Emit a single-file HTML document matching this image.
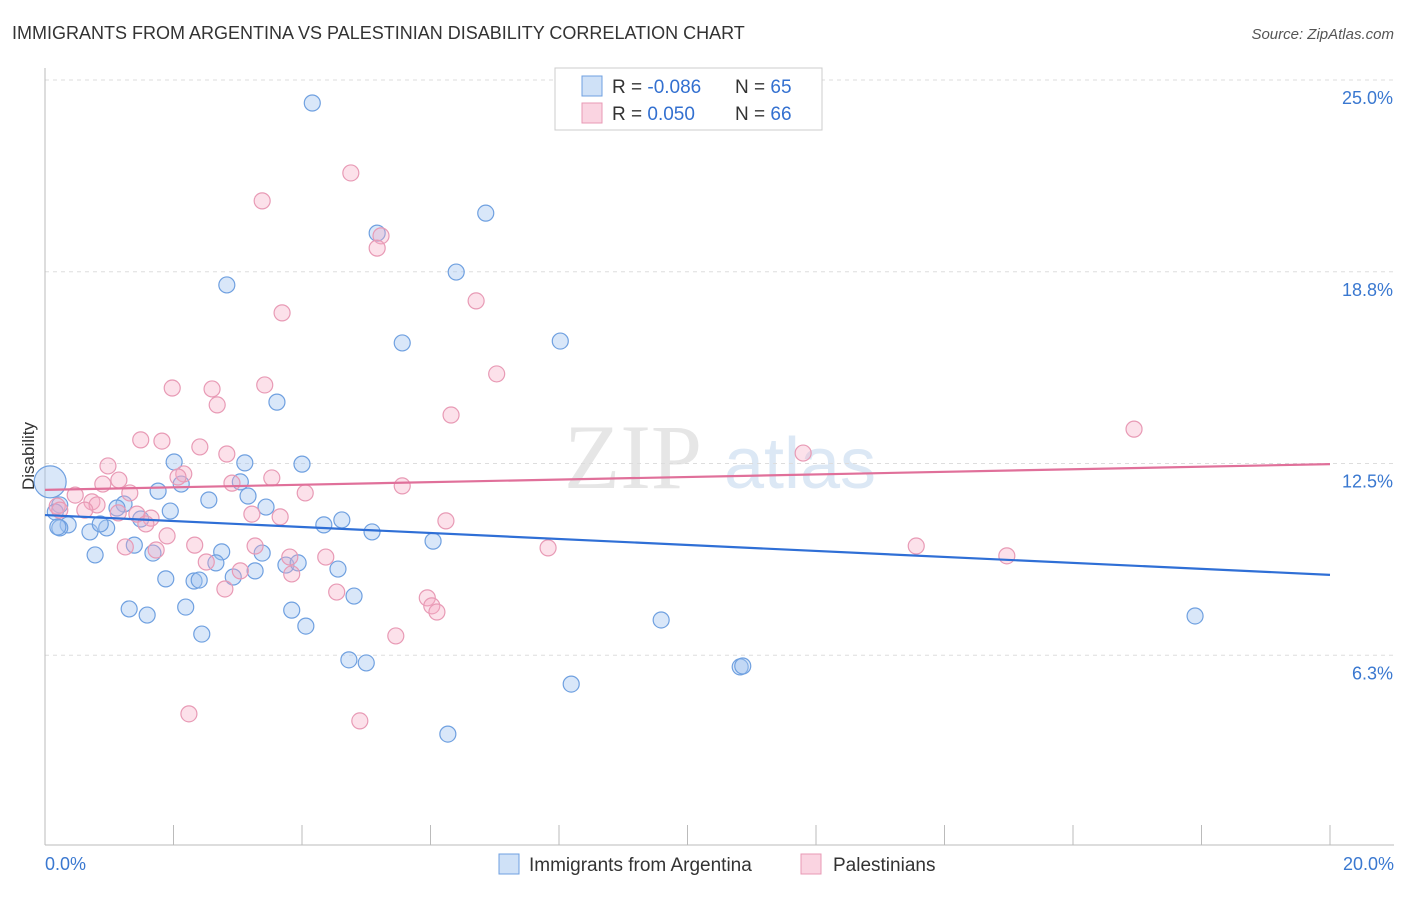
<!DOCTYPE html>
<html><head><meta charset="utf-8"><style>
body{margin:0;background:#fff;font-family:"Liberation Sans",sans-serif;}
#c{position:relative;width:1406px;height:892px;}
</style></head><body>
<div id="c">
<svg id="s" width="1406" height="892" xmlns="http://www.w3.org/2000/svg">
<text x="12" y="39" font-size="18" fill="#333">IMMIGRANTS FROM ARGENTINA VS PALESTINIAN DISABILITY CORRELATION CHART</text>
<text x="1394" y="39" font-size="15" fill="#555" font-style="italic" text-anchor="end">Source: ZipAtlas.com</text>
<text x="34" y="456" font-size="17" fill="#333" text-anchor="middle" transform="rotate(-90 34 456)">Disability</text>
<g><text x="633" y="488" font-size="92" fill="#e6e6e6" font-family="Liberation Serif,serif" text-anchor="middle">ZIP</text><text x="800" y="488" font-size="72" fill="#dce8f5" text-anchor="middle">atlas</text></g>
<g id="grid"></g><g id="axes"></g><g id="pts"></g><g id="lines"></g>
<g>
<rect x="555" y="68" width="267" height="62" fill="#fff" stroke="#ccc"/>
<rect x="582" y="76" width="20" height="20" fill="rgba(160,196,240,0.5)" stroke="#6fa0e0"/>
<rect x="582" y="103" width="20" height="20" fill="rgba(245,170,195,0.5)" stroke="#e89ab5"/>
<text x="612" y="93" font-size="19" fill="#333">R = <tspan fill="#3370d0">-0.086</tspan></text>
<text x="735" y="93" font-size="19" fill="#333">N = <tspan fill="#3370d0">65</tspan></text>
<text x="612" y="120" font-size="19" fill="#333">R = <tspan fill="#3370d0"> 0.050</tspan></text>
<text x="735" y="120" font-size="19" fill="#333">N = <tspan fill="#3370d0">66</tspan></text>
</g>
<g>
<rect x="499" y="854" width="20" height="20" fill="rgba(160,196,240,0.5)" stroke="#6fa0e0"/>
<text x="529" y="871" font-size="19" fill="#333">Immigrants from Argentina</text>
<rect x="801" y="854" width="20" height="20" fill="rgba(245,170,195,0.5)" stroke="#e89ab5"/>
<text x="833" y="871" font-size="19" fill="#333">Palestinians</text>
</g>
<text x="45" y="870" font-size="18" fill="#3a78d0">0.0%</text>
<text x="1394" y="870" font-size="18" fill="#3a78d0" text-anchor="end">20.0%</text>
</svg></div>
<script>
const yTicks=[25,18.75,12.5,6.25];
const yTickLabels=["25.0%","18.8%","12.5%","6.3%"];
const blueX=[4.16,6.86,5.17,6.40,2.83,5.56,8.02,3.61,2.01,3.11,4.00,1.76,2.12,3.04,2.55,3.16,3.44,1.23,1.95,1.12,1.49,0.23,0.16,0.36,0.23,0.70,0.96,0.86,4.34,4.62,5.09,6.04,1.39,0.78,1.68,2.75,3.38,2.66,3.27,3.75,3.94,4.56,1.88,2.32,2.40,2.93,1.31,1.59,2.19,3.84,4.06,2.44,4.81,9.59,17.90,4.73,5.00,10.82,10.86,8.19,6.27,0.20];
const blueY=[24.25,20.66,20.01,18.74,18.32,16.43,16.49,14.50,12.55,12.52,12.48,11.60,11.83,11.90,11.31,11.44,11.08,11.18,10.95,11.05,10.69,11.15,10.92,10.50,10.40,10.27,10.40,10.53,10.50,10.66,10.27,9.97,9.84,9.52,9.58,9.62,9.58,9.26,9.00,9.19,9.26,9.06,8.74,8.67,8.70,8.80,7.76,7.56,7.82,7.72,7.20,6.94,8.18,7.40,7.53,6.10,6.00,5.87,5.90,5.31,3.68,10.43];
const pinkX=[4.76,3.38,5.23,5.17,6.71,3.69,7.03,1.98,2.60,3.42,2.68,6.32,16.95,1.49,1.82,2.41,11.80,0.98,2.83,2.16,1.15,2.07,3.53,2.91,5.56,4.05,0.47,0.90,1.32,0.73,0.81,0.19,0.62,1.14,3.22,3.66,1.65,1.43,1.57,6.24,1.90,1.25,1.73,2.33,3.27,7.83,13.56,14.97,3.81,4.37,2.51,3.04,3.84,4.54,2.80,5.95,6.02,6.10,5.46,2.24,4.90,0.23];
const pinkY=[21.97,21.06,19.92,19.52,17.80,17.41,15.42,14.96,14.93,15.06,14.41,14.08,13.62,13.27,13.23,13.04,12.84,12.42,12.81,12.16,11.96,12.06,12.03,11.86,11.77,11.54,11.47,11.83,11.54,11.25,11.15,11.11,10.98,10.89,10.85,10.76,10.72,10.85,10.53,10.63,10.14,9.78,9.68,9.84,9.81,9.75,9.81,9.49,9.45,9.45,9.29,9.00,8.90,8.31,8.41,8.12,7.86,7.66,6.88,4.34,4.11,10.98];
const bigBlue=[0.08,11.90];
const blueTrend=[10.82,8.87];
const pinkTrend=[11.64,12.48];
const NS="http://www.w3.org/2000/svg";
const X=v=>45+v/20*1285, Y=v=>847-v*30.68;
function mk(t,a,p){const e=document.createElementNS(NS,t);for(const k in a)e.setAttribute(k,a[k]);p.appendChild(e);return e;}
const g=document.getElementById('grid'),ax=document.getElementById('axes'),pts=document.getElementById('pts'),ln=document.getElementById('lines');
yTicks.forEach((v,i)=>{
 const l=mk('line',{x1:45,x2:1394,y1:Y(v),y2:Y(v),stroke:'#ddd','stroke-dasharray':'4,4'},g);
 
 
 const t=mk('text',{x:1393,y:Y(v)+24,'font-size':18,fill:'#3a78d0','text-anchor':'end'},g);
 t.textContent=yTickLabels[i];
 
 
});
mk('line',{x1:45,x2:45,y1:68,y2:845,stroke:'#bbb'},ax);
mk('line',{x1:45,x2:1394,y1:845,y2:845,stroke:'#bbb'},ax);
for(let i=0;i<=10;i++){const t=mk('line',{x1:X(i*2),x2:X(i*2),y1:825,y2:845,stroke:'#bbb'},ax);
 
 }
function dots(xs,ys,fill,stroke,name){xs.forEach((x,i)=>{const c=mk('circle',{cx:X(x),cy:Y(ys[i]),r:8,fill:fill,stroke:stroke,'stroke-width':1.2},pts);
 
 });}
dots(blueX,blueY,'rgba(160,196,240,0.4)','#6fa0e0','argentina-point');
dots(pinkX,pinkY,'rgba(245,170,195,0.35)','#e89ab5','palestinian-point');
const bb=mk('circle',{cx:X(bigBlue[0]),cy:Y(bigBlue[1]),r:16,fill:'rgba(160,196,240,0.4)',stroke:'#6fa0e0','stroke-width':1.2},pts);


const l1=mk('line',{x1:X(0),x2:X(20),y1:Y(blueTrend[0]),y2:Y(blueTrend[1]),stroke:'#2f6fd6','stroke-width':2.2},ln);


const l2=mk('line',{x1:X(0),x2:X(20),y1:Y(pinkTrend[0]),y2:Y(pinkTrend[1]),stroke:'#e0709a','stroke-width':2.2},ln);


</script>
</body></html>
